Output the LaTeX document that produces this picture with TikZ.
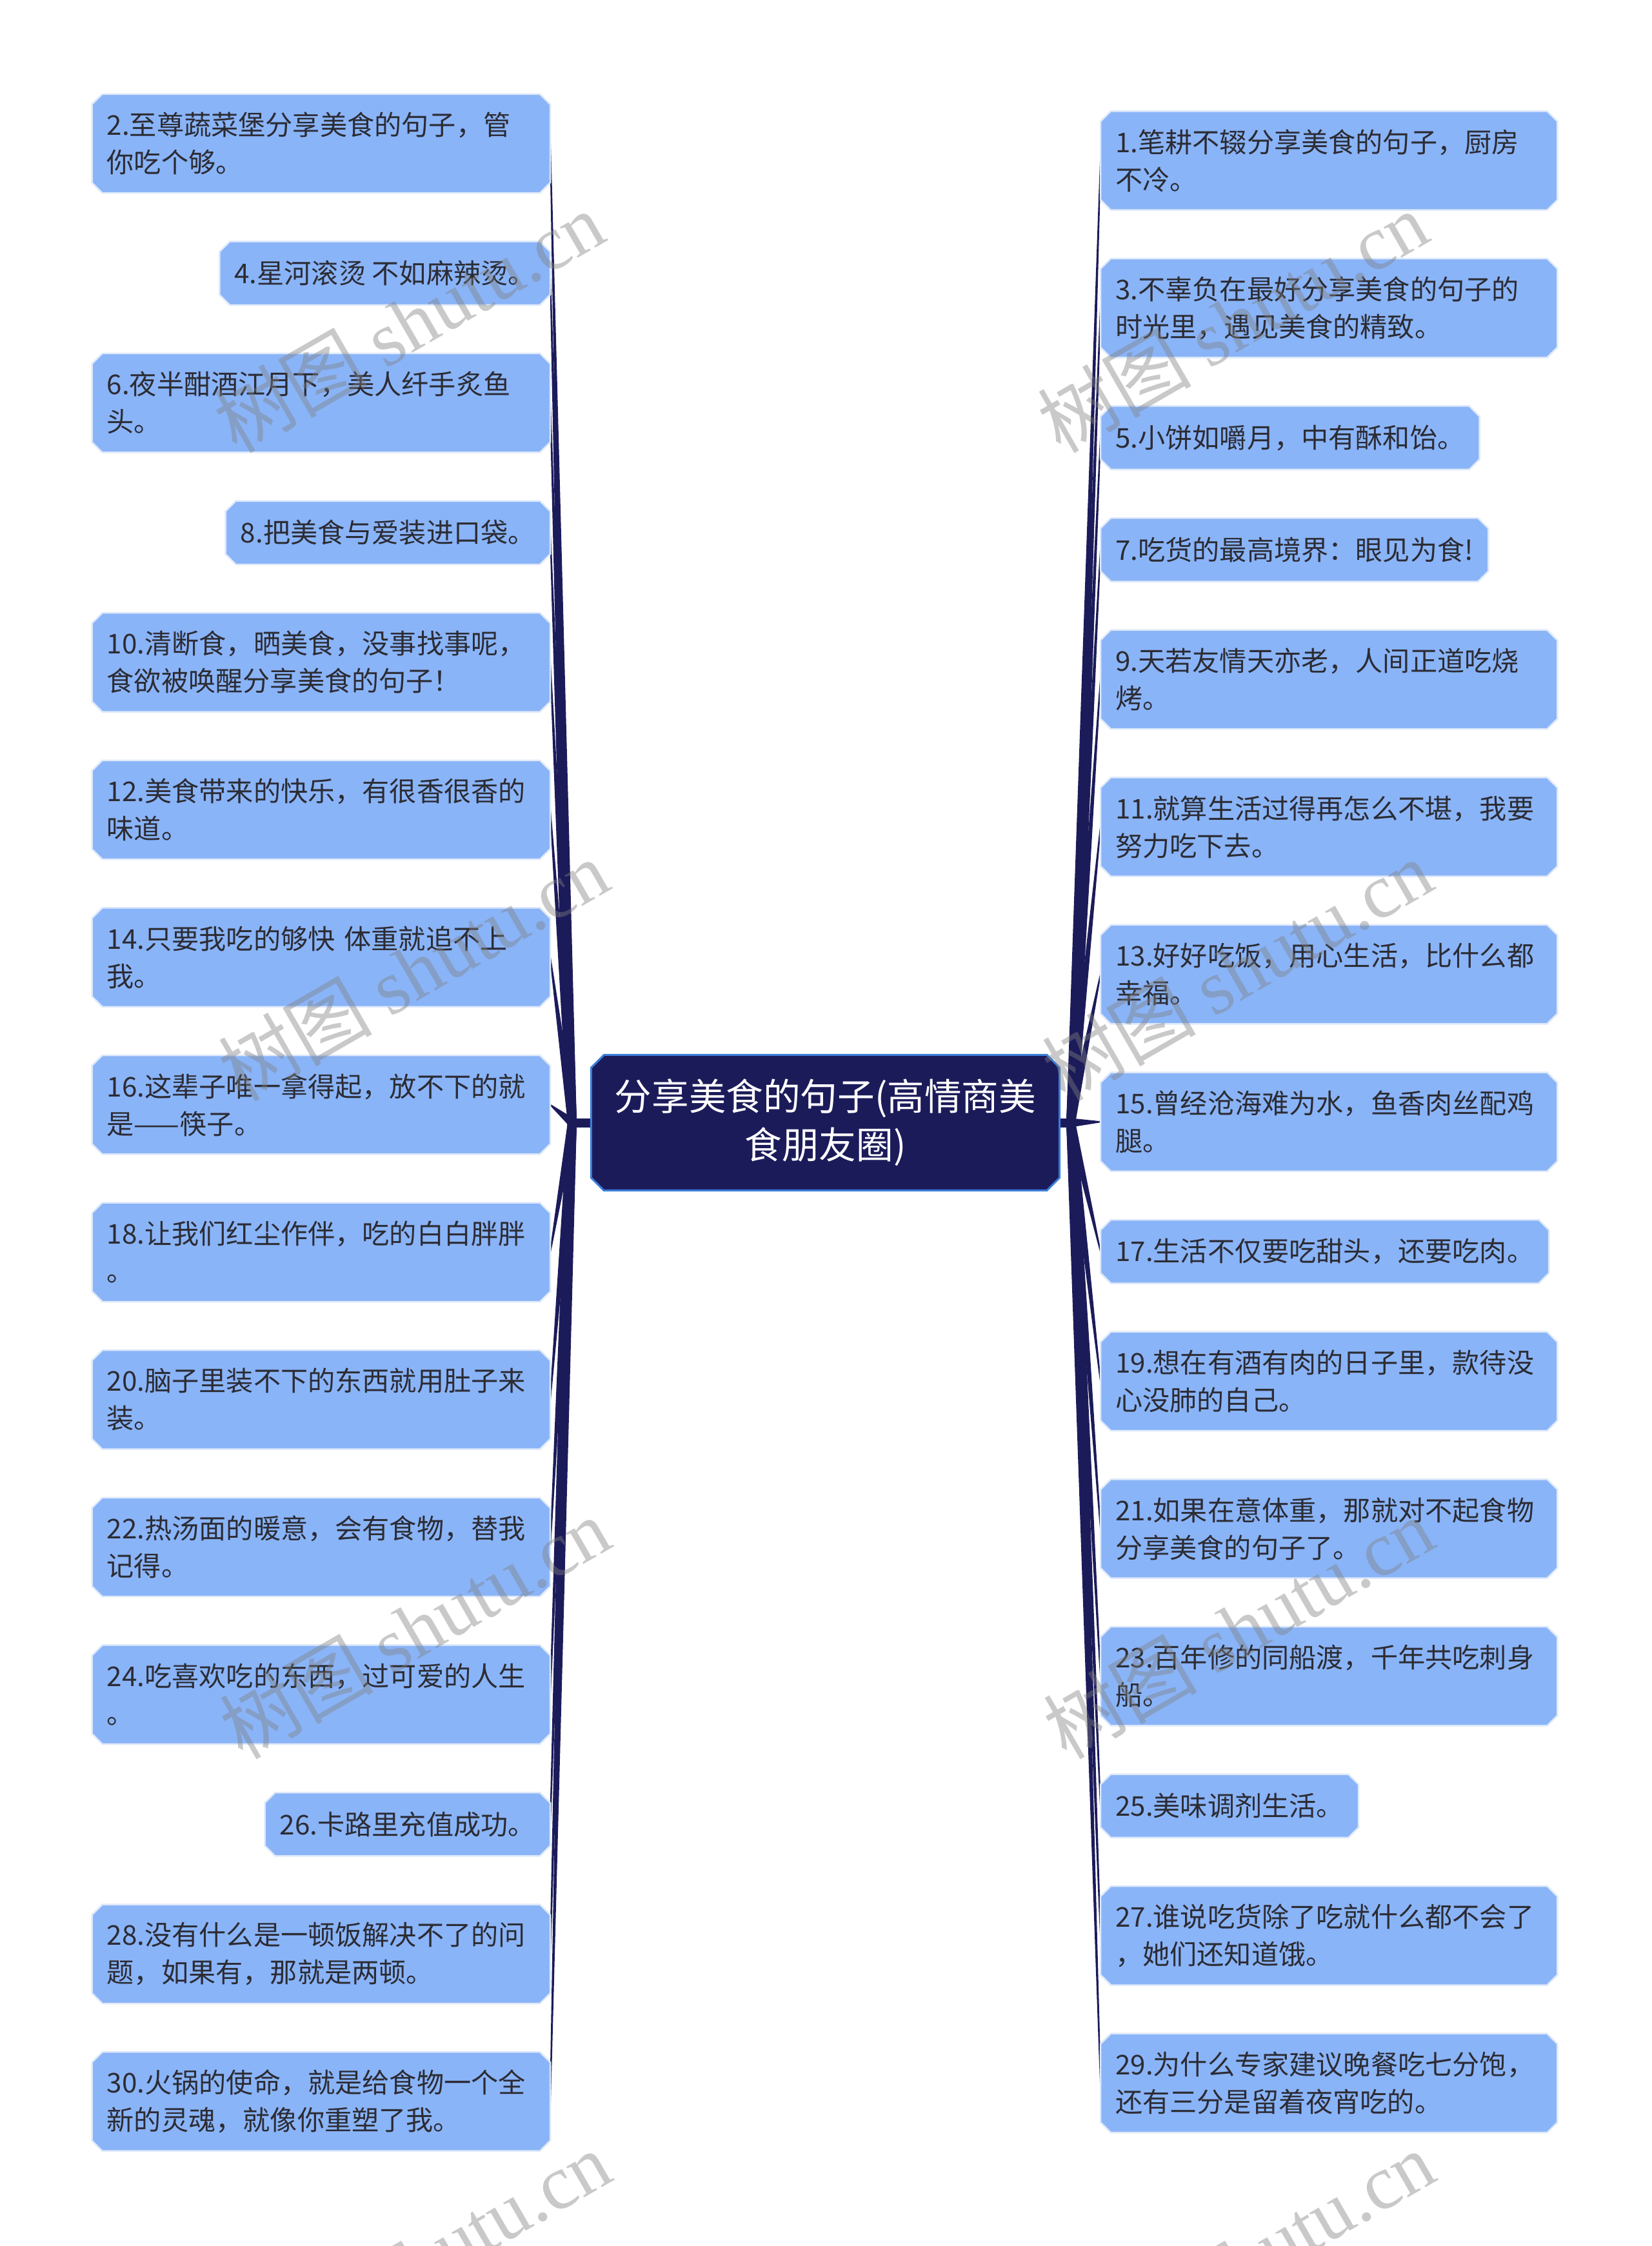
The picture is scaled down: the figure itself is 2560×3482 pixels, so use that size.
\documentclass[tikz,border=0pt]{standalone}
\usepackage{fontspec}
\setmainfont{Noto Sans CJK SC}
\newfontfamily\wmserif{Liberation Serif}
\usetikzlibrary{calc}
\definecolor{navy}{RGB}{28,27,90}
\definecolor{rootborder}{RGB}{59,125,216}
\definecolor{leaffill}{RGB}{138,180,248}
\definecolor{leafborder}{RGB}{222,233,250}
\definecolor{leaftext}{RGB}{44,44,52}
\pgfdeclarelayer{bg}
\pgfdeclarelayer{fg}
\pgfsetlayers{bg,main,fg}
\tikzset{
 leaf/.style={inner xsep=2.25mm, inner ysep=0pt, text=leaftext, font=\fontsize{12pt}{16.5pt}\selectfont, align=left},
 leafL/.style={leaf, anchor=east},
 leafR/.style={leaf, anchor=west},
 twoL/.style={minimum height=15.2mm, text width=66.4mm},
 twoR/.style={minimum height=15.2mm, text width=66.2mm},
 oneline/.style={minimum height=9.7mm},
 rootnode/.style={inner sep=0pt, minimum width=72.5mm, minimum height=20.9mm, text=white, align=center, font=\fontsize{16.4pt}{21.3pt}\selectfont},
 conn/.style={fill=navy},
 boxfill/.style={fill=leaffill, draw=leafborder, line width=0.25mm},
 rootfill/.style={fill=navy, draw=rootborder, line width=0.3mm},
 wm/.style={rotate=30, anchor=base east, text=black!50, text opacity=0.42, font=\fontsize{34pt}{40pt}\selectfont}
}
\newcommand{\chbox}[3]{%
 \path[#3] ([xshift=#2]#1.north west) -- ([xshift=-#2]#1.north east) -- ([yshift=-#2]#1.north east) -- ([yshift=#2]#1.south east) -- ([xshift=-#2]#1.south east) -- ([xshift=#2]#1.south west) -- ([yshift=#2]#1.south west) -- ([yshift=-#2]#1.north west) -- cycle;}
\newcommand{\branchwedge}[2]{%
 \fill[conn] ($(#1)!0.7mm!90:(#2)$) -- ($(#2)!0.1mm!-90:(#1)$) -- ($(#2)!0.1mm!90:(#1)$) -- ($(#1)!0.7mm!-90:(#2)$) -- cycle;}
\begin{document}
\begin{tikzpicture}[x=0.1mm, y=-0.1mm]
\useasboundingbox (0,0) rectangle (2560,3482);
% root
\node[rootnode] (root) at (1279.5,1740.5) {分享美食的句子(高情商美\\食朋友圈)};
\coordinate (JL) at (887,1740.5);
\coordinate (JR) at (1660,1740.5);
% left nodes
\node[leafL, twoL] (L2) at (853,222.5) {2.至尊蔬菜堡分享美食的句子，管\\你吃个够。};
\node[leafL, oneline] (L4) at (853,423.6) {4.星河滚烫 不如麻辣烫。};
\node[leafL, twoL] (L6) at (853,624.7) {6.夜半酣酒江月下，美人纤手炙鱼\\头。};
\node[leafL, oneline] (L8) at (853,825.8) {8.把美食与爱装进口袋。};
\node[leafL, twoL] (L10) at (853,1026.9) {10.清断食，晒美食，没事找事呢，\\食欲被唤醒分享美食的句子！};
\node[leafL, twoL] (L12) at (853,1255.5) {12.美食带来的快乐，有很香很香的\\味道。};
\node[leafL, twoL] (L14) at (853,1484.1) {14.只要我吃的够快 体重就追不上\\我。};
\node[leafL, twoL] (L16) at (853,1712.7) {16.这辈子唯一拿得起，放不下的就\\是——筷子。};
\node[leafL, twoL] (L18) at (853,1941.3) {18.让我们红尘作伴，吃的白白胖胖\\。};
\node[leafL, twoL] (L20) at (853,2169.9) {20.脑子里装不下的东西就用肚子来\\装。};
\node[leafL, twoL] (L22) at (853,2398.5) {22.热汤面的暖意，会有食物，替我\\记得。};
\node[leafL, twoL] (L24) at (853,2627.1) {24.吃喜欢吃的东西，过可爱的人生\\。};
\node[leafL, oneline] (L26) at (853,2828.2) {26.卡路里充值成功。};
\node[leafL, twoL] (L28) at (853,3029.3) {28.没有什么是一顿饭解决不了的问\\题，如果有，那就是两顿。};
\node[leafL, twoL] (L30) at (853,3257.9) {30.火锅的使命，就是给食物一个全\\新的灵魂，就像你重塑了我。};
% right nodes
\node[leafR, twoR] (R1) at (1706,249) {1.笔耕不辍分享美食的句子，厨房\\不冷。};
\node[leafR, twoR] (R3) at (1706,477.6) {3.不辜负在最好分享美食的句子的\\时光里，遇见美食的精致。};
\node[leafR, oneline] (R5) at (1706,678.7) {5.小饼如嚼月，中有酥和饴。};
\node[leafR, oneline] (R7) at (1706,852.3) {7.吃货的最高境界：眼见为食!};
\node[leafR, twoR] (R9) at (1706,1053.4) {9.天若友情天亦老，人间正道吃烧\\烤。};
\node[leafR, twoR] (R11) at (1706,1282) {11.就算生活过得再怎么不堪，我要\\努力吃下去。};
\node[leafR, twoR] (R13) at (1706,1510.6) {13.好好吃饭，用心生活，比什么都\\幸福。};
\node[leafR, twoR] (R15) at (1706,1739.2) {15.曾经沧海难为水，鱼香肉丝配鸡\\腿。};
\node[leafR, oneline] (R17) at (1706,1940.3) {17.生活不仅要吃甜头，还要吃肉。};
\node[leafR, twoR] (R19) at (1706,2141.4) {19.想在有酒有肉的日子里，款待没\\心没肺的自己。};
\node[leafR, twoR] (R21) at (1706,2370) {21.如果在意体重，那就对不起食物\\分享美食的句子了。};
\node[leafR, twoR] (R23) at (1706,2598.6) {23.百年修的同船渡，千年共吃刺身\\船。};
\node[leafR, oneline] (R25) at (1706,2799.7) {25.美味调剂生活。};
\node[leafR, twoR] (R27) at (1706,3000.8) {27.谁说吃货除了吃就什么都不会了\\，她们还知道饿。};
\node[leafR, twoR] (R29) at (1706,3229.4) {29.为什么专家建议晚餐吃七分饱，\\还有三分是留着夜宵吃的。};
\begin{pgfonlayer}{bg}
\fill[white] (0,0) rectangle (2560,3482);
% stubs
\fill[conn] ($(root.west)+(0,-7)$) rectangle ($(JL)+(-2,7)$);
\fill[conn] ($(root.east)+(0,-7)$) rectangle ($(JR)+(2,7)$);
% branches
\foreach \n in {L2,L4,L6,L8,L10,L12,L14,L16,L18,L20,L22,L24,L26,L28,L30}{\branchwedge{JL}{\n.east}}
\foreach \n in {R1,R3,R5,R7,R9,R11,R13,R15,R17,R19,R21,R23,R25,R27,R29}{\branchwedge{JR}{\n.west}}
% boxes
\foreach \n in {L2,L4,L6,L8,L10,L12,L14,L16,L18,L20,L22,L24,L26,L28,L30,R1,R3,R5,R7,R9,R11,R13,R15,R17,R19,R21,R23,R25,R27,R29}{\chbox{\n}{1.6mm}{boxfill}}
\chbox{root}{2mm}{rootfill}
\end{pgfonlayer}
\begin{pgfonlayer}{fg}
\foreach \p [count=\i] in {{(956,365)},{(963,1370)},{(965,2390)},{(966,3372)},{(2233,365)},{(2240,1370)},{(2242,2390)},{(2243,3372)}}{
 \node[wm] (wm\i) at \p {树图 {\wmserif shutu.cn}};
}
\end{pgfonlayer}
\end{tikzpicture}
\end{document}
